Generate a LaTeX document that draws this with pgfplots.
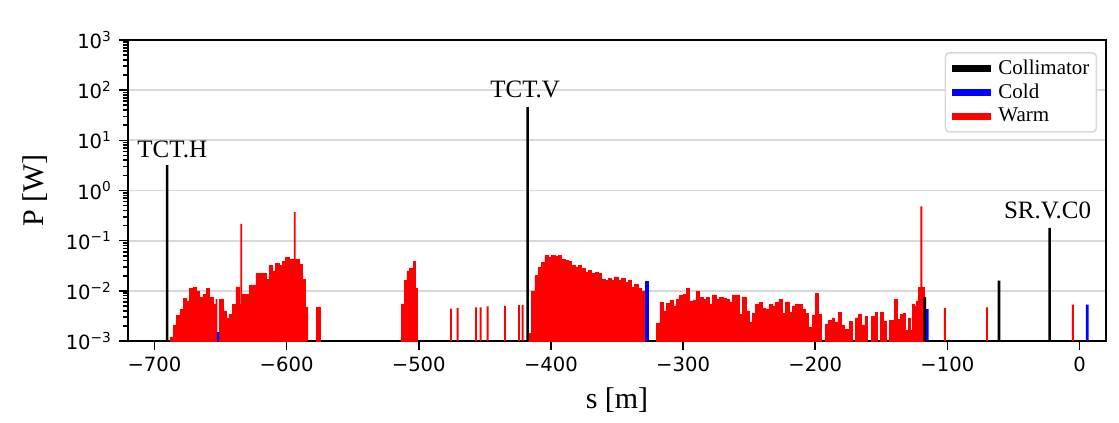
\documentclass[border=0pt]{standalone}
\usepackage{fontspec}
\setmainfont{Liberation Serif}
\newfontfamily\dejavu{DejaVu Sans}
\usepackage{pgfplots}
\pgfplotsset{compat=1.18}
\begin{document}
\begin{tikzpicture}
\begin{axis}[
  scale only axis, width=489pt, height=150.5pt,
  xmin=-720, xmax=20, ymode=log, ymin=1e-3, ymax=1e3, log origin y=infty,
  axis line style={line width=1pt},
  tick align=outside, tick pos=left,
  major tick length=4.5pt, minor tick length=2.5pt,
  every tick/.style={black, line width=0.8pt},
  xtick={-700,-600,...,0},
  xticklabels={−700,−600,−500,−400,−300,−200,−100,0},
  ytick={1e-3,1e-2,1e-1,1,1e1,1e2,1e3},
  minor ytick={2e-3,3e-3,4e-3,5e-3,6e-3,7e-3,8e-3,9e-3,2e-2,3e-2,4e-2,5e-2,6e-2,7e-2,8e-2,9e-2,0.2,0.3,0.4,0.5,0.6,0.7,0.8,0.9,2,3,4,5,6,7,8,9,20,30,40,50,60,70,80,90,200,300,400,500,600,700,800,900},
  yticklabels={10\textsuperscript{−3},10\textsuperscript{−2},10\textsuperscript{−1},10\textsuperscript{0},10\textsuperscript{1},10\textsuperscript{2},10\textsuperscript{3}},
  ticklabel style={font=\dejavu\fontsize{9.8}{11}\selectfont},
  ymajorgrids, major grid style={gray!30, line width=0.9pt},
  xlabel={s [m]}, ylabel={P [W]},
  label style={font=\fontsize{15}{18}\selectfont},
  xlabel style={at={(axis description cs:0.5,-0.196)}, anchor=center},
  ylabel style={at={(axis description cs:-0.095,0.5)}, anchor=center},
  legend style={at={(rel axis cs:0.991,0.96)}, anchor=north east, draw=gray!30,
    rounded corners=2pt, line width=0.8pt, font=\fontsize{10.5}{12}\selectfont,
    row sep=-0.7pt, inner sep=1.5pt},
  legend cell align=left,
]
\addlegendimage{legend image code/.code={\draw[black,line width=3.5pt](0pt,0pt)--(19.5pt,0pt);}}
\addlegendentry{Collimator}
\addlegendimage{legend image code/.code={\draw[blue,line width=3.5pt](0pt,0pt)--(19.5pt,0pt);}}
\addlegendentry{Cold}
\addlegendimage{legend image code/.code={\draw[red,line width=3.5pt](0pt,0pt)--(19.5pt,0pt);}}
\addlegendentry{Warm}

% Warm, dense (width 2.6)
\addplot[ybar, bar width=2.6, bar shift=0pt, fill=red, draw=red, line width=0.3pt, forget plot] coordinates {
(-687,0.0012) (-684.5,0.0021) (-682,0.0032) (-679.5,0.0042) (-677,0.0070) (-674.5,0.0063)
(-672,0.011) (-669.5,0.012) (-667,0.010) (-664.5,0.0074) (-662,0.0085) (-659.5,0.011)
(-657,0.0074) (-654.5,0.0054) (-649.5,0.0068) (-647,0.0040) (-644.5,0.0029) (-642,0.0034)
(-639.5,0.0054) (-637,0.012) (-634.5,0.0054) (-632,0.0085) (-629.5,0.0085) (-627,0.013)
(-624.5,0.013) (-622,0.022) (-619.5,0.022) (-617,0.022) (-614.5,0.017) (-612,0.032)
(-609.5,0.025) (-607,0.035) (-604.5,0.032) (-602,0.039) (-599.5,0.046) (-597,0.042)
(-594.5,0.043) (-592,0.043) (-589.5,0.034) (-587.5,0.017) (-576,0.0048)
(-415.5,0.0014) (-413.4,0.010) (-410.8,0.020) (-408.3,0.029) (-405.8,0.037) (-403.3,0.050)
(-400.8,0.046) (-398.2,0.050) (-395.7,0.048) (-393.2,0.050) (-390.7,0.043) (-388.2,0.040)
(-385.6,0.039) (-383.1,0.032) (-380.6,0.030) (-378.1,0.032) (-375.6,0.028) (-373.1,0.023)
(-370.5,0.026) (-368,0.022) (-365.5,0.023) (-363,0.022) (-360.5,0.017) (-358,0.016)
(-355.4,0.018) (-352.9,0.016) (-350.4,0.019) (-347.9,0.016) (-345.4,0.018) (-342.9,0.015)
(-340.3,0.016) (-337.8,0.012) (-335.3,0.0136) (-332.8,0.011) (-330.3,0.010)
(-318.75,0.0023) (-316.25,0.0059) (-313.75,0.0040) (-311.25,0.0056) (-308.75,0.0065)
(-306.25,0.0050) (-303.75,0.0068) (-301.25,0.0080) (-298.75,0.0086) (-296.25,0.011)
(-293.75,0.0063) (-291.25,0.0065) (-288.75,0.0100) (-286.25,0.0074) (-283.75,0.0068)
(-281.25,0.0074) (-278.75,0.0054) (-276.25,0.0083) (-273.75,0.0068) (-271.25,0.0074)
(-268.75,0.0070) (-266.25,0.0068) (-263.75,0.0060) (-261.25,0.0083) (-258.75,0.0083)
(-256.25,0.0034) (-253.75,0.0076) (-251.25,0.0040) (-248.75,0.0024) (-246.25,0.0035)
(-243.75,0.0054) (-241.25,0.0059) (-238.75,0.0045) (-236.25,0.0043) (-233.75,0.0054)
(-231.25,0.0050) (-228.75,0.0059) (-226.25,0.0068) (-223.75,0.0035) (-221.25,0.0060)
(-218.75,0.0037) (-216.25,0.0050) (-213.75,0.0054) (-211.25,0.0054)
};
% Warm, medium (width 2.0)
\addplot[ybar, bar width=2.0, bar shift=0pt, fill=red, draw=red, line width=0.3pt, forget plot] coordinates {
(-512.4,0.0055) (-510.1,0.016) (-508,0.025) (-506,0.028) (-504.5,0.024) (-503.3,0.039) (-502,0.011)
(-208.75,0.0043) (-206.25,0.0035) (-203.75,0.0019) (-201.25,0.0033) (-198.75,0.0089)
(-196.25,0.0034) (-191.25,0.0022) (-188.75,0.0026) (-186.25,0.0029) (-183.75,0.0024)
(-181.25,0.0037) (-178.75,0.0021) (-176.25,0.0017) (-172.9,0.0025) (-168.75,0.0029)
(-166.25,0.0034) (-163.75,0.0021) (-161.25,0.0031) (-156.25,0.0031) (-153.75,0.0037)
(-149.5,0.0037) (-147,0.0025) (-143.1,0.0026) (-141,0.0026) (-139,0.0068) (-136.75,0.0027)
(-134.5,0.0034) (-132.5,0.0035) (-130.5,0.0016) (-128.75,0.0029) (-127,0.0016)
(-125.75,0.0054) (-124,0.0050) (-122.5,0.0063) (-121,0.0117) (-118.6,0.0117)
};
% Warm, narrow (width 1.4)
\addplot[ybar, bar width=1.4, bar shift=0pt, fill=red, draw=none, forget plot] coordinates {
(-653,0.0068) (-634.3,0.215) (-593.8,0.37) (-584.5,0.0048) (-475.6,0.0044) (-470.6,0.0046)
(-456.7,0.0047) (-453.2,0.0047) (-447.9,0.0049) (-434.8,0.0050) (-424.2,0.0052) (-421.4,0.0052)
(-119.7,0.48) (-101.9,0.0045) (-70.1,0.0047) (-5.1,0.0053)
};
% Cold
\addplot[ybar, bar width=2.0, bar shift=0pt, fill=blue, draw=none, forget plot] coordinates {
(-651.8,0.0015) (-115.2,0.0043) (5.8,0.0053)
};
\addplot[ybar, bar width=3.0, bar shift=0pt, fill=blue, draw=none, forget plot] coordinates {
(-327.2,0.016)
};
% Collimator
\addplot[ybar, bar width=2.0, bar shift=0pt, fill=black, draw=none, forget plot] coordinates {
(-690.4,3.2) (-417.6,46) (-117.2,0.0076) (-61,0.016) (-22.7,0.18)
};

\node[anchor=base, font=\fontsize{12.5}{14}\selectfont] at (axis cs:-686.5,4.6) {TCT.H};
\node[anchor=base, font=\fontsize{12.5}{14}\selectfont] at (axis cs:-419.5,72) {TCT.V};
\node[anchor=base, font=\fontsize{12.5}{14}\selectfont] at (axis cs:-24.2,0.28) {SR.V.C0};
\node[anchor=base east, font=\fontsize{11}{13}\selectfont] at (axis description cs:0.992,1.06) {IPD};
\end{axis}
\path ([xshift=-64pt,yshift=-40.5pt]current axis.south west) rectangle ([xshift=6.5pt,yshift=20pt]current axis.north east);
\end{tikzpicture}
\end{document}
